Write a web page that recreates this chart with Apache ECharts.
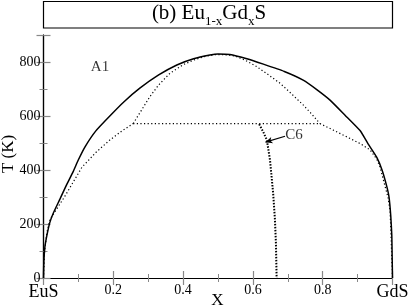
<!DOCTYPE html>
<html>
<head>
<meta charset="utf-8">
<script src="https://cdn.jsdelivr.net/npm/echarts@6/dist/echarts.min.js"></script>
<style>
  html, body { margin: 0; padding: 0; background: #fff; }
  #main { width: 409px; height: 308px; }
</style>
</head>
<body>
<div id="main"></div>
<script>
// phase boundaries, [x, T]
var solidLine = [[0,0],[0.001,60],[0.004,115],[0.009,153],[0.018,205],[0.028,240],[0.047,292],[0.065,342],
  [0.085,394],[0.1,438],[0.119,486],[0.15,545],[0.19,600],[0.23,652],[0.276,703],[0.33,752],[0.382,789],
  [0.43,812],[0.477,826],[0.5,830],[0.534,828],[0.58,813],[0.63,792],[0.69,765],[0.744,733],[0.783,698],
  [0.821,659],[0.864,603],[0.907,546],[0.93,497],[0.955,447],[0.97,400],[0.983,342],[0.99,300],[0.995,230],
  [0.998,157],[0.999,80],[1,0]];
var dotLeft = [[0,0],[0.003,100],[0.01,170],[0.019,218],[0.06,300],[0.11,410],[0.15,465],[0.19,511],
  [0.225,545],[0.257,572]];
var dotTop = [[0.257,572],[0.28,620],[0.305,672],[0.33,715],[0.362,758],[0.4,790],[0.43,807],[0.46,820],
  [0.49,827],[0.52,827],[0.55,822],[0.58,805],[0.611,783],[0.645,752],[0.678,721],[0.71,683],[0.744,641],
  [0.77,605],[0.792,572]];
var dotRight = [[0.792,572],[0.83,548],[0.878,517],[0.91,496],[0.936,474],[0.955,440],[0.964,412],
  [0.979,338],[0.987,300],[0.993,250],[0.996,150],[0.998,70],[1,0]];
var dotFlat = [[0.257,572],[0.792,572]];
var c6Line = [[0.618,570],[0.63,540],[0.64,511],[0.649,437],[0.658,314],[0.663,220],[0.666,128],[0.668,0]];
var labels = [{name: 'A1', value: [0.162, 781]}, {name: 'C6', value: [0.718, 530]}];
var arrowFrom = [0.692, 525];
var arrowTo = [0.636, 503];
var xTicks = { 0: 'EuS', 1: 'GdS' };

var serif = '"Liberation Serif", "DejaVu Serif", serif';
var myChart = echarts.init(document.getElementById('main'));

function dotted(data, w, dash) {
  return {
    type: 'line', data: data, showSymbol: false, symbol: 'none', silent: true,
    lineStyle: { color: '#000', width: w, type: dash }
  };
}

var axisCommon = {
  type: 'value',
  axisLine: { show: true, lineStyle: { color: '#000', width: 1.2 } },
  axisTick: { show: true, inside: true, length: 7, lineStyle: { color: '#888', width: 1.2 } },
  minorTick: { show: true, splitNumber: 2, length: 4, lineStyle: { color: '#888', width: 1 } },
  splitLine: { show: false }
};

var option = {
  animation: false,
  grid: { left: 43.5, right: 16.5, top: 35, bottom: 30, containLabel: false, outerBoundsMode: 'none' },
  graphic: [
    { type: 'rect', shape: { x: 43.5, y: 1.5, width: 349, height: 26.5 },
      style: { fill: '#fff', stroke: '#000', lineWidth: 1.2 } },
    { type: 'text', x: 209, y: 3, style: {
        text: '{a|(b) Eu}{s|1-x}{a|Gd}{s|x}{a|S}',
        align: 'center', verticalAlign: 'top',
        rich: {
          a: { fontFamily: serif, fontSize: 21, lineHeight: 22, verticalAlign: 'top', fill: '#000' },
          s: { fontFamily: serif, fontSize: 13, lineHeight: 14, padding: [12, 0, 0, 0], verticalAlign: 'top', fill: '#000' }
        }
    } },
    // axis titles
    { type: 'text', x: 217.5, y: 301, style: {
        text: 'X', align: 'center', verticalAlign: 'middle',
        fontFamily: serif, fontSize: 17, fill: '#000' } },
    { type: 'text', x: 9, y: 154, rotation: Math.PI / 2, style: {
        text: 'T (K)', align: 'center', verticalAlign: 'middle',
        fontFamily: serif, fontSize: 17, fill: '#000' } }
  ],
  xAxis: [
    Object.assign({}, axisCommon, {
      min: 0, max: 1, interval: 0.2,
      axisLabel: {
        fontFamily: serif, fontSize: 14, color: '#000', margin: 5,
        formatter: function (v) {
          if (xTicks[v] !== undefined) return '{big|' + xTicks[v] + '}';
          return v.toFixed(1);
        },
        rich: { big: { fontFamily: serif, fontSize: 18, color: '#000' } }
      }
    }),
    Object.assign({}, axisCommon, {
      position: 'top', min: 0, max: 1, interval: 0.2, axisLabel: { show: false }
    })
  ],
  yAxis: [
    Object.assign({}, axisCommon, {
      min: 0, max: 900, interval: 200,
      axisLabel: { fontFamily: serif, fontSize: 14, color: '#000', margin: 3, showMaxLabel: false }
    }),
    Object.assign({}, axisCommon, {
      position: 'right', min: 0, max: 900, interval: 200, axisLabel: { show: false }
    })
  ],
  series: [
    { type: 'line', data: solidLine, showSymbol: false, symbol: 'none', smooth: 0.15, silent: true,
      lineStyle: { color: '#000', width: 1.5 } },
    dotted(dotLeft, 1.2, [1.2, 2.4]),
    dotted(dotTop, 1.2, [1.2, 2.4]),
    dotted(dotRight, 1.2, [1.2, 2.4]),
    Object.assign(dotted(dotFlat, 1.2, [1.2, 2.4]), {
      markLine: {
        silent: true, symbol: ['none', 'arrow'], symbolSize: [5, 7],
        label: { show: false },
        lineStyle: { color: '#000', width: 1.2, type: 'solid' },
        data: [[{ coord: arrowFrom }, { coord: arrowTo }]]
      }
    }),
    dotted(c6Line, 2, [1.5, 1.5]),
    { type: 'scatter', data: labels, symbolSize: 0, silent: true,
      label: { show: true, position: 'inside', formatter: '{b}',
        fontFamily: serif, fontSize: 15, color: '#000' } }
  ]
};
myChart.setOption(option);
</script>
</body>
</html>
